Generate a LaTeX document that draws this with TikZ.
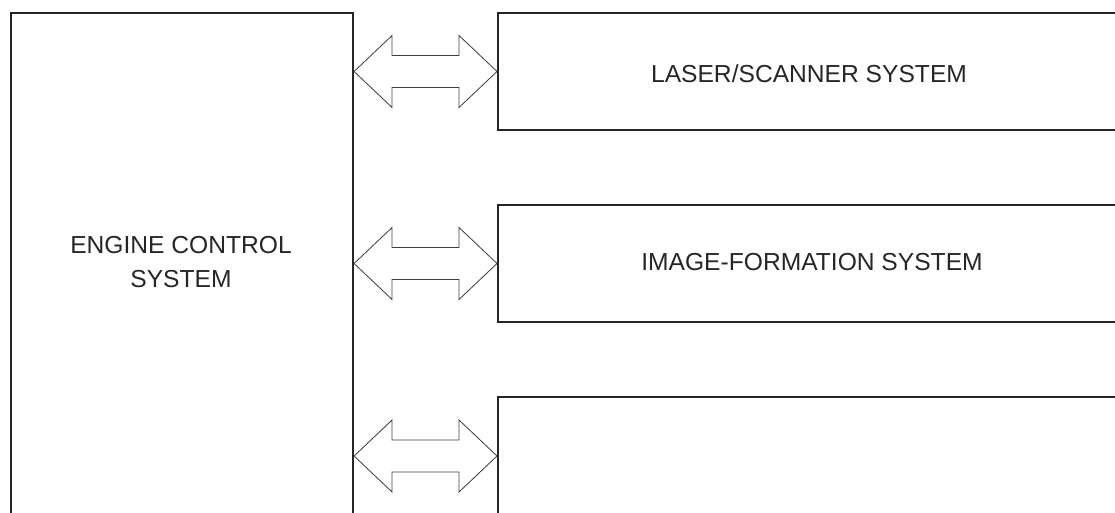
\documentclass[tikz,border=0pt]{standalone}
\usepackage{fontspec}
\setmainfont{Liberation Sans}
\usepackage{tikz}
\usetikzlibrary{calc}

% double block arrow between two points
\newcommand{\dblarrow}[2]{%
	\draw[arrowline] (#1) -- ++(38,-36) -- ++(0,20)
		-- ($(#2)+(-38,-16)$) -- ++(0,-20) -- (#2)
		-- ++(-38,36) -- ++(0,-20) -- ($(#1)+(38,16)$)
		-- ++(0,20) -- cycle;}

\begin{document}
\begin{tikzpicture}[x=0.025cm, y=-0.025cm,
			sysbox/.style = {shape=rectangle, draw=black!85,
					line width=1.4pt, anchor=north west, inner sep=0pt},
			txt/.style = {align=center, text=black!85,
					font=\fontsize{17.5}{24.2}\selectfont},
			arrowline/.style = {draw=black!75, line width=0.6pt}]
	\useasboundingbox (0,0) rectangle (1115,512);
	\clip (0,0) rectangle (1115,512);
	% boxes
	\node[sysbox, minimum width=8.55cm, minimum height=13.7cm] (ecs) at (10,12) {};
	\node[sysbox, minimum width=17.6cm, minimum height=2.925cm] (las) at (497,12) {};
	\node[sysbox, minimum width=17.6cm, minimum height=2.925cm] (img) at (497,204) {};
	\node[sysbox, minimum width=17.6cm, minimum height=2.95cm] (low) at (497,396) {};
	% texts
	\node[txt] (ecstxt) at (181,262) {ENGINE CONTROL\\SYSTEM};
	\node[txt] (lastxt) at (809,74) {LASER/SCANNER SYSTEM};
	\node[txt] (imgtxt) at (812,262) {IMAGE-FORMATION SYSTEM};
	% arrows
	\dblarrow{ecs.east |- las.west}{las.west}
	\dblarrow{ecs.east |- img.west}{img.west}
	\dblarrow{ecs.east |- low.west}{low.west}
\end{tikzpicture}
\end{document}
